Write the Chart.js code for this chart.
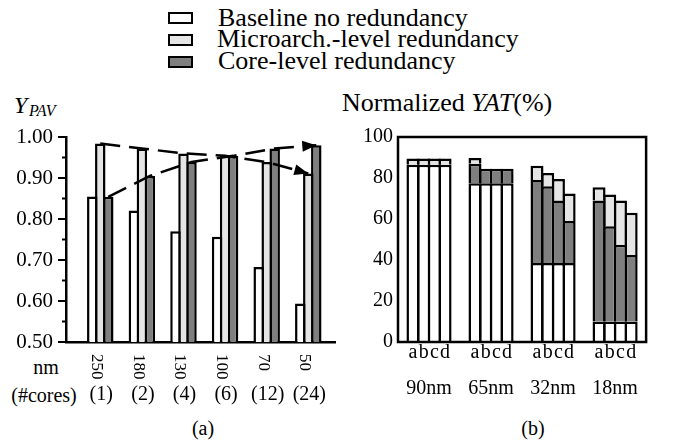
<!DOCTYPE html>
<html lang="en">
<head>
<meta charset="UTF-8">
<title>Yield vs redundancy</title>
<script src="https://cdn.jsdelivr.net/npm/chart.js"></script>
<style>
  body { margin: 0; background: #fff; }
  #page { position: relative; width: 674px; height: 440px; overflow: hidden; font-family: "Liberation Serif", serif; color: #000; }
  canvas { position: absolute; top: 0; }
  .t { position: absolute; line-height: 1; white-space: nowrap; font-family: "Liberation Serif", serif; }
  .c { transform: translate(-50%, -50%); }
  .sw { position: absolute; left: 168px; width: 25px; height: 12px; box-sizing: border-box; border: 2.5px solid #000; }
</style>
</head>
<body>
<div id="page">
  <div class="sw" style="top:12px;background:#fff"></div>
  <div class="sw" style="top:34px;background:#e5e5e5"></div>
  <div class="sw" style="top:56px;background:#7f7f7f"></div>
  <div class="t" style="left:218px;top:5px;font-size:26px">Baseline no redundancy</div>
  <div class="t" style="left:217px;top:26px;font-size:26px">Microarch.-level redundancy</div>
  <div class="t" style="left:218px;top:48px;font-size:26px">Core-level redundancy</div>

  <div class="t" style="left:14px;top:93px;font-size:24px;font-style:italic">Y</div>
  <div class="t" style="left:29px;top:103px;font-size:16px;font-style:italic">PAV</div>
  <div class="t" style="left:342px;top:90px;font-size:26px">Normalized <i>YAT</i>(%)</div>

  <div class="t c" style="left:46px;top:367px;font-size:20px">nm</div>
  <div class="t c" style="left:44px;top:395px;font-size:20px">(#cores)</div>
  <div class="t c" style="left:203px;top:428px;font-size:20px">(a)</div>
  <div class="t c" style="left:533px;top:428px;font-size:20px">(b)</div>

  <canvas id="chartA" width="345" height="440" style="left:0"></canvas>
  <canvas id="chartB" width="334" height="440" style="left:340px"></canvas>
</div>

<script>
// (a) yield per area vs technology node
const nodesNm = ['250', '180', '130', '100', '70', '50'];
const coreCounts = ['(1)', '(2)', '(4)', '(6)', '(12)', '(24)'];
const ypavBaseline = [0.855, 0.821, 0.770, 0.757, 0.683, 0.594];
const ypavMicro = [0.984, 0.972, 0.960, 0.954, 0.939, 0.911];
const ypavCore = [0.854, 0.905, 0.939, 0.954, 0.972, 0.980];
const ypavTicks = [0.5, 0.6, 0.7, 0.8, 0.9, 1.0];

// (b) normalized YAT, per node, configurations a..d
const yatNodes = ['90nm', '65nm', '32nm', '18nm'];
const yatConfigs = ['a', 'b', 'c', 'd'];
const yatBaseline = [[86.5, 86.5, 86.5, 86.5], [77.5, 77.5, 77.5, 77.5], [38.5, 38.5, 38.5, 38.5], [10, 10, 10, 10]];
const yatCore = [[0, 0, 0, 0], [9.5, 7, 7, 7], [40.5, 37.5, 30.5, 20.5], [59, 46.5, 37.5, 32.5]];
const yatMicro = [[3, 3, 3, 3], [2.7, 0, 0, 0], [7, 6.5, 10.5, 13.5], [6.5, 15.5, 21.5, 20.5]];

const WHITE = '#ffffff', LIGHT = '#e5e5e5', DARK = '#7f7f7f';
const serif = '"Liberation Serif", serif';

Chart.defaults.font.family = serif;
Chart.defaults.color = '#000';
Chart.defaults.animation = false;

const barStyle = (color) => ({
  backgroundColor: color, borderColor: '#000', borderWidth: 2.5, borderSkipped: 'start'
});

// offset of the core bar from the group centre, in x units
const coreShift = 8 / 41.6;

const arrowPlugin = {
  id: 'arrows',
  afterDatasetsDraw(chart) {
    const ctx = chart.ctx;
    chart.data.datasets.forEach((ds, k) => {
      if (ds.type !== 'line') return;
      const pts = chart.getDatasetMeta(k).data;
      const p1 = pts[pts.length - 2], p2 = pts[pts.length - 1];
      const a = Math.atan2(p2.y - p1.y, p2.x - p1.x);
      ctx.save();
      ctx.translate(p2.x, p2.y);
      ctx.rotate(a);
      ctx.beginPath();
      ctx.moveTo(0, 0);
      ctx.lineTo(-14, -5.5);
      ctx.lineTo(-14, 5.5);
      ctx.closePath();
      ctx.fillStyle = '#000';
      ctx.fill();
      ctx.restore();
    });
  }
};

const axisLabelsA = {
  id: 'axisLabelsA',
  afterDraw(chart) {
    const ctx = chart.ctx, xs = chart.scales.x, ys = chart.scales.y;
    ctx.save();
    // minor ticks
    ctx.strokeStyle = '#000';
    ctx.lineWidth = 2;
    for (let i = 0; i < ypavTicks.length - 1; i++) {
      const y = ys.getPixelForValue(ypavTicks[i] + 0.05);
      ctx.beginPath();
      ctx.moveTo(chart.chartArea.left - 4, y);
      ctx.lineTo(chart.chartArea.left, y);
      ctx.stroke();
    }
    ctx.fillStyle = '#000';
    nodesNm.forEach((nm, i) => {
      const x = xs.getPixelForValue(i);
      ctx.save();
      ctx.translate(x - 8, 354);
      ctx.rotate(Math.PI / 2);
      ctx.font = '17px ' + serif;
      ctx.textAlign = 'left';
      ctx.textBaseline = 'alphabetic';
      ctx.fillText(nm, 0, 0);
      ctx.restore();
      ctx.font = '20px ' + serif;
      ctx.textAlign = 'center';
      ctx.textBaseline = 'middle';
      ctx.fillText(coreCounts[i], x + 1, 395);
    });
    ctx.restore();
  }
};

new Chart(document.getElementById('chartA'), {
  type: 'bar',
  data: {
    datasets: [
      {
        type: 'line', order: 0,
        data: ypavMicro.map((v, i) => ({ x: i, y: v })),
        borderColor: '#000', borderWidth: 2.5, borderDash: [20, 9],
        pointRadius: 0, fill: false, tension: 0
      },
      {
        type: 'line', order: 0,
        data: ypavCore.map((v, i) => ({ x: i + coreShift, y: v })),
        borderColor: '#000', borderWidth: 2.5, borderDash: [20, 9],
        pointRadius: 0, fill: false, tension: 0
      },
      { label: 'Baseline no redundancy', order: 1, data: ypavBaseline.map((v, i) => ({ x: i, y: v })), ...barStyle(WHITE) },
      { label: 'Microarch.-level redundancy', order: 1, data: ypavMicro.map((v, i) => ({ x: i, y: v })), ...barStyle(LIGHT) },
      { label: 'Core-level redundancy', order: 1, data: ypavCore.map((v, i) => ({ x: i, y: v })), ...barStyle(DARK) }
    ]
  },
  options: {
    responsive: false,
    barPercentage: 1.31,
    categoryPercentage: 0.577,
    layout: { padding: { left: 0, right: 10, top: 137, bottom: 0 } },
    plugins: { legend: { display: false }, tooltip: { enabled: false } },
    scales: {
      x: {
        type: 'linear', min: -0.824, max: 5.642, offset: false,
        grid: { display: false },
        ticks: { display: false },
        border: { color: '#000', width: 2.5 },
        afterFit: (s) => { s.height = 98; }
      },
      y: {
        min: 0.5, max: 1.0,
        afterBuildTicks: (s) => { s.ticks = ypavTicks.map(v => ({ value: v })); },
        ticks: { font: { size: 21 }, padding: 5, callback: (v) => Number(v).toFixed(2) },
        grid: { drawOnChartArea: false, color: '#000', lineWidth: 2, tickLength: 8 },
        border: { color: '#000', width: 2.5 },
        afterFit: (s) => { s.width = 66; }
      }
    }
  },
  plugins: [arrowPlugin, axisLabelsA]
});

// (b)
const frameB = {
  id: 'frameB',
  afterDatasetsDraw(chart) {
    const { ctx, chartArea: a } = chart;
    ctx.save();
    ctx.strokeStyle = '#000';
    ctx.lineWidth = 2.5;
    ctx.strokeRect(a.left, a.top, a.right - a.left, a.bottom - a.top);
    ctx.restore();
  },
  afterDraw(chart) {
    const ctx = chart.ctx;
    ctx.save();
    ctx.fillStyle = '#000';
    ctx.font = '20px ' + serif;
    ctx.textAlign = 'center';
    ctx.textBaseline = 'middle';
    yatConfigs.forEach((c, j) => {
      const meta = chart.getDatasetMeta(j * 3);
      meta.data.forEach((bar) => ctx.fillText(c, bar.x, 353));
    });
    ctx.restore();
  }
};

const yatDatasets = [];
yatConfigs.forEach((c, j) => {
  yatDatasets.push({ label: 'Baseline ' + c, stack: c, data: yatBaseline.map(r => r[j]), ...barStyle(WHITE) });
  yatDatasets.push({ label: 'Core ' + c, stack: c, data: yatCore.map(r => r[j]), ...barStyle(DARK) });
  yatDatasets.push({ label: 'Micro ' + c, stack: c, data: yatMicro.map(r => r[j]), ...barStyle(LIGHT) });
});

new Chart(document.getElementById('chartB'), {
  type: 'bar',
  data: { labels: yatNodes, datasets: yatDatasets },
  options: {
    responsive: false,
    barPercentage: 1.217,
    categoryPercentage: 0.69,
    layout: { padding: { left: 0, right: 9, top: 137, bottom: 0 } },
    plugins: { legend: { display: false }, tooltip: { enabled: false } },
    scales: {
      x: {
        stacked: true,
        grid: { display: false, drawTicks: false },
        border: { display: false },
        ticks: { font: { size: 20 }, padding: 35 },
        afterFit: (s) => { s.height = 98; }
      },
      y: {
        stacked: true, min: 0, max: 100,
        ticks: { stepSize: 20, font: { size: 20 }, padding: 5 },
        grid: { display: false, drawTicks: false },
        border: { display: false },
        afterFit: (s) => { s.width = 58; }
      }
    }
  },
  plugins: [frameB]
});
</script>
</body>
</html>
